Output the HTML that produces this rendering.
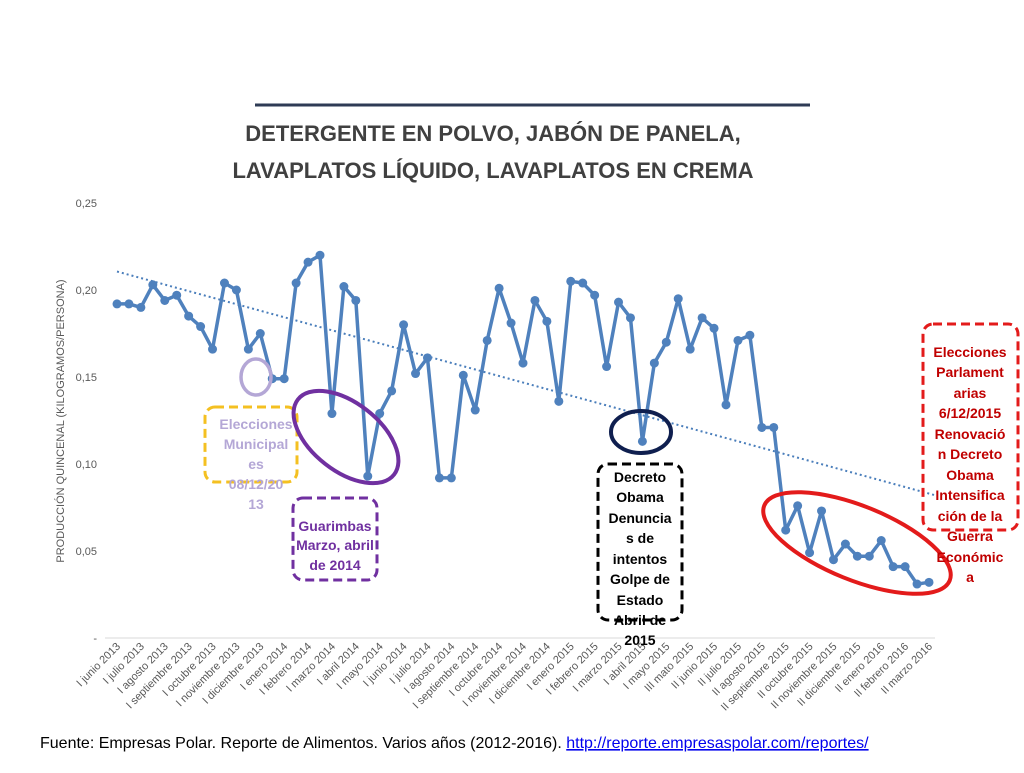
<!DOCTYPE html>
<html><head><meta charset="utf-8"><style>
html,body{margin:0;padding:0;background:#fff;}
svg text{font-family:"Liberation Sans",sans-serif;}
</style></head><body>
<svg width="1024" height="768" viewBox="0 0 1024 768" xmlns="http://www.w3.org/2000/svg">
<line x1="255" y1="105" x2="810" y2="105" stroke="#2e3b55" stroke-width="3"/>
<text x="493" y="141" text-anchor="middle" font-size="22" font-weight="bold" fill="#404040">DETERGENTE EN POLVO, JABÓN DE PANELA,</text>
<text x="493" y="178" text-anchor="middle" font-size="22" font-weight="bold" fill="#404040">LAVAPLATOS LÍQUIDO, LAVAPLATOS EN CREMA</text>
<text transform="translate(64,421) rotate(-90)" text-anchor="middle" font-size="11" fill="#595959">PRODUCCIÓN QUINCENAL (KILOGRAMOS/PERSONA)</text>
<g id="yticks"></g>
<line x1="105" y1="638" x2="935" y2="638" stroke="#d9d9d9" stroke-width="1"/>
<g id="xticks"></g>
<line id="trend" stroke="#4a7ebb" stroke-width="2" stroke-dasharray="2,3"/>
<polyline id="series" fill="none" stroke="#4f81bd" stroke-width="3.5" stroke-linejoin="round"/>
<g id="points"></g>

<ellipse cx="256" cy="377" rx="15" ry="18" fill="none" stroke="#b4a7d6" stroke-width="3.5"/>
<rect x="205" y="407" width="92" height="75" rx="10" fill="none" stroke="#f4c021" stroke-width="3" stroke-dasharray="9,5"/>
<g font-size="14" font-weight="bold" fill="#b4a7d6" text-anchor="middle">
<text x="256" y="429">Elecciones</text><text x="256" y="449">Municipal</text><text x="256" y="469">es</text><text x="256" y="489">08/12/20</text><text x="256" y="509">13</text></g>

<ellipse cx="346" cy="437" rx="61" ry="34" transform="rotate(38 346 437)" fill="none" stroke="#7030a0" stroke-width="4"/>
<rect x="293" y="498" width="84" height="82" rx="10" fill="none" stroke="#7030a0" stroke-width="3" stroke-dasharray="9,5"/>
<g font-size="14" font-weight="bold" fill="#7030a0" text-anchor="middle">
<text x="335" y="531">Guarimbas</text><text x="335" y="550">Marzo, abril</text><text x="335" y="570">de 2014</text></g>

<ellipse cx="641" cy="432" rx="30" ry="21" fill="none" stroke="#0f1f4f" stroke-width="4"/>
<rect x="598" y="464" width="84" height="156" rx="10" fill="none" stroke="#000" stroke-width="3" stroke-dasharray="9,5"/>
<g font-size="14" font-weight="bold" fill="#000" text-anchor="middle">
<text x="640" y="482">Decreto</text><text x="640" y="502">Obama</text><text x="640" y="523">Denuncia</text><text x="640" y="543">s de</text><text x="640" y="564">intentos</text><text x="640" y="584">Golpe de</text><text x="640" y="605">Estado</text><text x="640" y="625">Abril de</text><text x="640" y="645">2015</text></g>

<ellipse cx="857" cy="543" rx="100" ry="37" transform="rotate(22 857 543)" fill="none" stroke="#e31b1b" stroke-width="4"/>
<rect x="923" y="324" width="95" height="206" rx="10" fill="none" stroke="#e31b1b" stroke-width="3" stroke-dasharray="9,5"/>
<g font-size="14" font-weight="bold" fill="#c00000" text-anchor="middle">
<text x="970" y="357">Elecciones</text><text x="970" y="377">Parlament</text><text x="970" y="398">arias</text><text x="970" y="418">6/12/2015</text><text x="970" y="439">Renovació</text><text x="970" y="459">n Decreto</text><text x="970" y="480">Obama</text><text x="970" y="500">Intensifica</text><text x="970" y="521">ción de la</text><text x="970" y="541">Guerra</text><text x="970" y="562">Económic</text><text x="970" y="582">a</text></g>

<text x="40" y="748" font-size="16" fill="#000">Fuente: Empresas Polar. Reporte de Alimentos. Varios años (2012-2016). <tspan fill="#0000ee" text-decoration="underline">http://reporte.empresaspolar.com/reportes/</tspan></text>
</svg>
<script>
const values = [0.192,0.192,0.190,0.203,0.194,0.197,0.185,0.179,0.166,0.204,0.200,0.166,0.175,0.149,0.149,0.204,0.216,0.220,0.129,0.202,0.194,0.093,0.129,0.142,0.180,0.152,0.161,0.092,0.092,0.151,0.131,0.171,0.201,0.181,0.158,0.194,0.182,0.136,0.205,0.204,0.197,0.156,0.193,0.184,0.113,0.158,0.170,0.195,0.166,0.184,0.178,0.134,0.171,0.174,0.121,0.121,0.062,0.076,0.049,0.073,0.045,0.054,0.047,0.047,0.056,0.041,0.041,0.031,0.032];
const xLabels = ["I junio 2013","I julio 2013","I agosto 2013","I septiembre 2013","I octubre 2013","I noviembre 2013","I diciembre 2013","I enero 2014","I febrero 2014","I marzo 2014","I abril 2014","I mayo 2014","I junio 2014","I julio 2014","I agosto 2014","I septiembre 2014","I octubre 2014","I noviembre 2014","I diciembre 2014","I enero 2015","I febrero 2015","I marzo 2015","I abril 2015","I mayo 2015","III mato 2015","II junio 2015","II julio 2015","II agosto 2015","II septiembre 2015","II octubre 2015","II noviembre 2015","II diciembre 2015","II enero 2016","II febrero 2016","II marzo 2016"];
const yTicks = [0,0.05,0.10,0.15,0.20,0.25];
const yTickLabels = ["-","0,05","0,10","0,15","0,20","0,25"];
const NS="http://www.w3.org/2000/svg";
const x0=117,x1=929,yBase=638,yTop=203,yMax=0.25;
function xs(i){return x0+(x1-x0)*i/(values.length-1);}
function ys(v){return yBase-(yBase-yTop)*v/yMax;}
const yg=document.getElementById('yticks');
yTicks.forEach((t,i)=>{const e=document.createElementNS(NS,'text');


e.setAttribute('x',97);e.setAttribute('y',ys(t)+4);e.setAttribute('text-anchor','end');e.setAttribute('font-size','11');e.setAttribute('fill','#595959');e.textContent=yTickLabels[i];yg.appendChild(e);});
const xg=document.getElementById('xticks');
xLabels.forEach((l,i)=>{const e=document.createElementNS(NS,'text');


const x=xs(i*2)+4,y=647;e.setAttribute('transform',`translate(${x},${y}) rotate(-45)`);e.setAttribute('text-anchor','end');e.setAttribute('font-size','11');e.setAttribute('fill','#595959');e.textContent=l;xg.appendChild(e);});
document.getElementById('series').setAttribute('points',values.map((v,i)=>xs(i)+','+ys(v)).join(' '));
const pg=document.getElementById('points');
values.forEach((v,i)=>{const c=document.createElementNS(NS,'circle');


c.setAttribute('cx',xs(i));c.setAttribute('cy',ys(v));c.setAttribute('r',4.5);c.setAttribute('fill','#4f81bd');pg.appendChild(c);});
// linear trend from data
const n=values.length;let sx=0,sy=0,sxx=0,sxy=0;values.forEach((v,i)=>{sx+=i;sy+=v;sxx+=i*i;sxy+=i*v;});
const b=(n*sxy-sx*sy)/(n*sxx-sx*sx),a=(sy-b*sx)/n;
const tr=document.getElementById('trend');
tr.setAttribute('x1',xs(0));tr.setAttribute('y1',ys(a));tr.setAttribute('x2',xs(n-1)+6);tr.setAttribute('y2',ys(a+b*(n-1+0.5)));
</script>
</body></html>
